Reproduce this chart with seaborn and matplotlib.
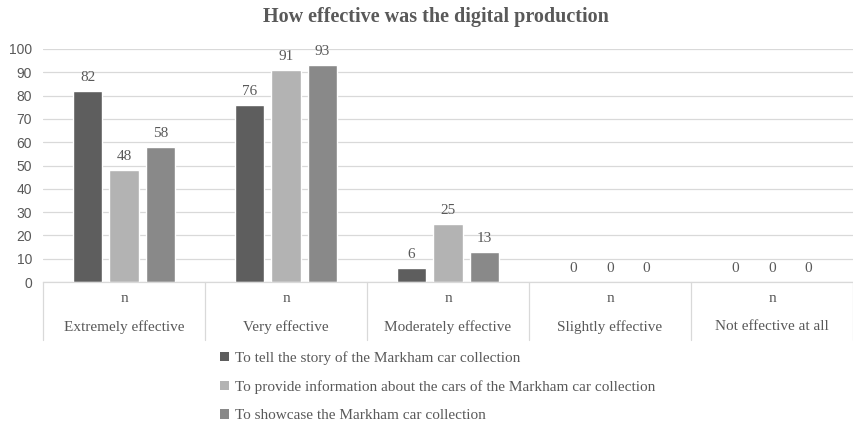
import matplotlib
matplotlib.use("Agg")
import matplotlib.pyplot as plt
import matplotlib.transforms as mtransforms
from matplotlib.patches import Patch
import seaborn as sns
import pandas as pd

categories = ["Extremely effective", "Very effective", "Moderately effective",
              "Slightly effective", "Not effective at all"]
series_names = [
    "To tell the story of the Markham car collection",
    "To provide information about the cars of the Markham car collection",
    "To showcase the Markham car collection",
]
story_values = [82, 76, 6, 0, 0]
information_values = [48, 91, 25, 0, 0]
showcase_values = [58, 93, 13, 0, 0]
sub_label = "n"
y_ticks = [0, 10, 20, 30, 40, 50, 60, 70, 80, 90, 100]

colors = ["#5e5e5e", "#b3b3b3", "#898989"]
text_color = "#595959"
serif = ["Liberation Serif", "DejaVu Serif"]

rows = []
for name, vals in zip(series_names, [story_values, information_values, showcase_values]):
    for cat, v in zip(categories, vals):
        rows.append({"category": cat, "series": name, "value": v})
df = pd.DataFrame(rows)

sns.set_theme(style="white")
fig = plt.figure(figsize=(8.54, 4.24), dpi=100)
ax = fig.add_axes([43 / 854, 1 - 282 / 424, 1 - 43 / 854 - 1 / 854, (282 - 49) / 424])

sns.barplot(data=df, x="category", y="value", hue="series", order=categories,
            hue_order=series_names, palette=colors, width=0.675, gap=0.2,
            saturation=1, ax=ax, legend=False, errorbar=None)

ax.set_ylim(0, 100)
ax.set_xlim(-0.5, len(categories) - 0.5)
ax.set_yticks(y_ticks)
ax.set_yticklabels([str(t) for t in y_ticks], fontsize=10, color=text_color,
                   family=["Liberation Sans", "DejaVu Sans"])
ax.tick_params(axis="y", length=0, pad=8)
ax.set_xticks([])
ax.set_xlabel("")
ax.set_ylabel("")
ax.yaxis.grid(True, color="#d9d9d9", linewidth=0.9)
ax.set_axisbelow(True)
for side in ["top", "right", "left"]:
    ax.spines[side].set_visible(False)
ax.spines["bottom"].set_color("#d9d9d9")
ax.spines["bottom"].set_linewidth(0.9)

# value labels above each bar
for container in ax.containers:
    ax.bar_label(container, fmt="%d", padding=5, fontsize=11, color=text_color,
                 family=serif)

# two-level category axis below the plot
trans = mtransforms.blended_transform_factory(ax.transData, ax.transAxes)
px = 1 / ((282 - 49))  # one pixel in axes fraction (vertical)
for i in range(len(categories) + 1):
    ax.plot([i - 0.5, i - 0.5], [0, -58 * px], transform=trans, color="#d9d9d9",
            linewidth=0.9, clip_on=False)
for i, cat in enumerate(categories):
    ax.text(i, -17 * px, sub_label, transform=trans, ha="center", va="center",
            fontsize=11, color=text_color, family=serif)
    ax.text(i, -45 * px, cat, transform=trans, ha="center", va="center",
            fontsize=11, color=text_color, family=serif)

fig.text(436 / 854, 1 - 17 / 424, "How effective was the digital production",
         ha="center", va="center", fontsize=14.5, fontweight="bold", color=text_color,
         family=serif)

handles = [Patch(facecolor=c, edgecolor="none") for c in colors]
fig.legend(handles, series_names, loc="upper left", bbox_to_anchor=(220 / 854, 1 - 351 / 424),
           frameon=False, prop={"family": serif, "size": 11}, labelcolor=text_color,
           handlelength=0.6, handleheight=0.6, handletextpad=0.35, labelspacing=1.0,
           borderpad=0, borderaxespad=0)

fig.savefig("out.png", dpi=100)
